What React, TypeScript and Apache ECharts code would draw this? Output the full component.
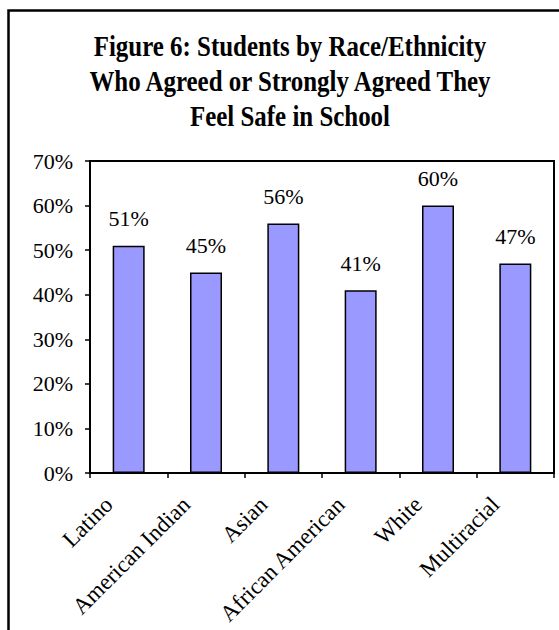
import React, { useEffect, useRef } from "react";
import * as echarts from "echarts";

// Survey results: share of students who agreed or strongly agreed they feel safe in school
const categories = [
  "Latino",
  "American Indian",
  "Asian",
  "African American",
  "White",
  "Multiracial",
];
const safeShares = [51, 45, 56, 41, 60, 47];

const yMin = 0;
const yMax = 70;
const yStep = 10;

const titleLines = [
  "Figure 6: Students by Race/Ethnicity",
  "Who Agreed or Strongly Agreed They",
  "Feel Safe in School",
];

const SERIF = '"Liberation Serif", "Times New Roman", Times, serif';

export default function App() {
  const ref = useRef<HTMLDivElement>(null);

  useEffect(() => {
    if (!ref.current) return;
    const chart = echarts.init(ref.current, null, { renderer: "svg" });

    chart.setOption({
      animation: false,
      backgroundColor: "#ffffff",
      grid: {
        left: 90,
        right: 5,
        top: 161,
        bottom: 157,
        containLabel: false,
        outerBoundsMode: "none",
        show: true,
        borderColor: "#000000",
        borderWidth: 2,
        backgroundColor: "transparent",
      },
      graphic: [
        {
          type: "rect",
          shape: { x: 8.5, y: 10.5, width: 700, height: 800 },
          style: { fill: "none", stroke: "#000000", lineWidth: 2.5 },
          silent: true,
        },
        {
          type: "text",
          x: 290,
          y: 29,
          scaleX: 0.89,
          scaleY: 1.03,
          style: {
            text: titleLines.join("\n"),
            x: 0,
            y: 0,
            align: "center",
            verticalAlign: "top",
            font: `bold 28px ${SERIF}`,
            lineHeight: 34,
            fill: "#000000",
          },
          silent: true,
        },
      ],
      xAxis: {
        type: "category",
        data: categories,
        boundaryGap: true,
        axisLine: { show: true, lineStyle: { color: "#000000", width: 2 } },
        axisTick: {
          show: true,
          length: 5,
          inside: false,
          lineStyle: { color: "#000000", width: 1.5 },
        },
        axisLabel: {
          interval: 0,
          rotate: 45,
          margin: 8,
          padding: [0, 28, 0, 0],
          color: "#000000",
          fontFamily: SERIF,
          fontSize: 23,
        },
        splitLine: { show: false },
      },
      yAxis: {
        type: "value",
        min: yMin,
        max: yMax,
        interval: yStep,
        axisLine: { show: true, lineStyle: { color: "#000000", width: 2 } },
        axisTick: {
          show: true,
          length: 5,
          inside: false,
          lineStyle: { color: "#000000", width: 1.5 },
        },
        axisLabel: {
          margin: 17,
          color: "#000000",
          fontFamily: SERIF,
          fontSize: 22,
          formatter: "{value}%",
        },
        splitLine: { show: false },
      },
      series: [
        {
          type: "bar",
          data: safeShares,
          barWidth: 32,
          itemStyle: {
            color: "#9999ff",
            borderColor: "#000000",
            borderWidth: 1.5,
          },
          label: {
            show: true,
            position: "top",
            distance: 16,
            color: "#000000",
            fontFamily: SERIF,
            fontSize: 22,
            formatter: (p: any) => `${p.value}%`,
          },
        },
      ],
    });

    return () => chart.dispose();
  }, []);

  return (
    <div
      ref={ref}
      style={{
        position: "fixed",
        left: 0,
        top: 0,
        width: 559,
        height: 630,
        background: "#ffffff",
      }}
    />
  );
}
